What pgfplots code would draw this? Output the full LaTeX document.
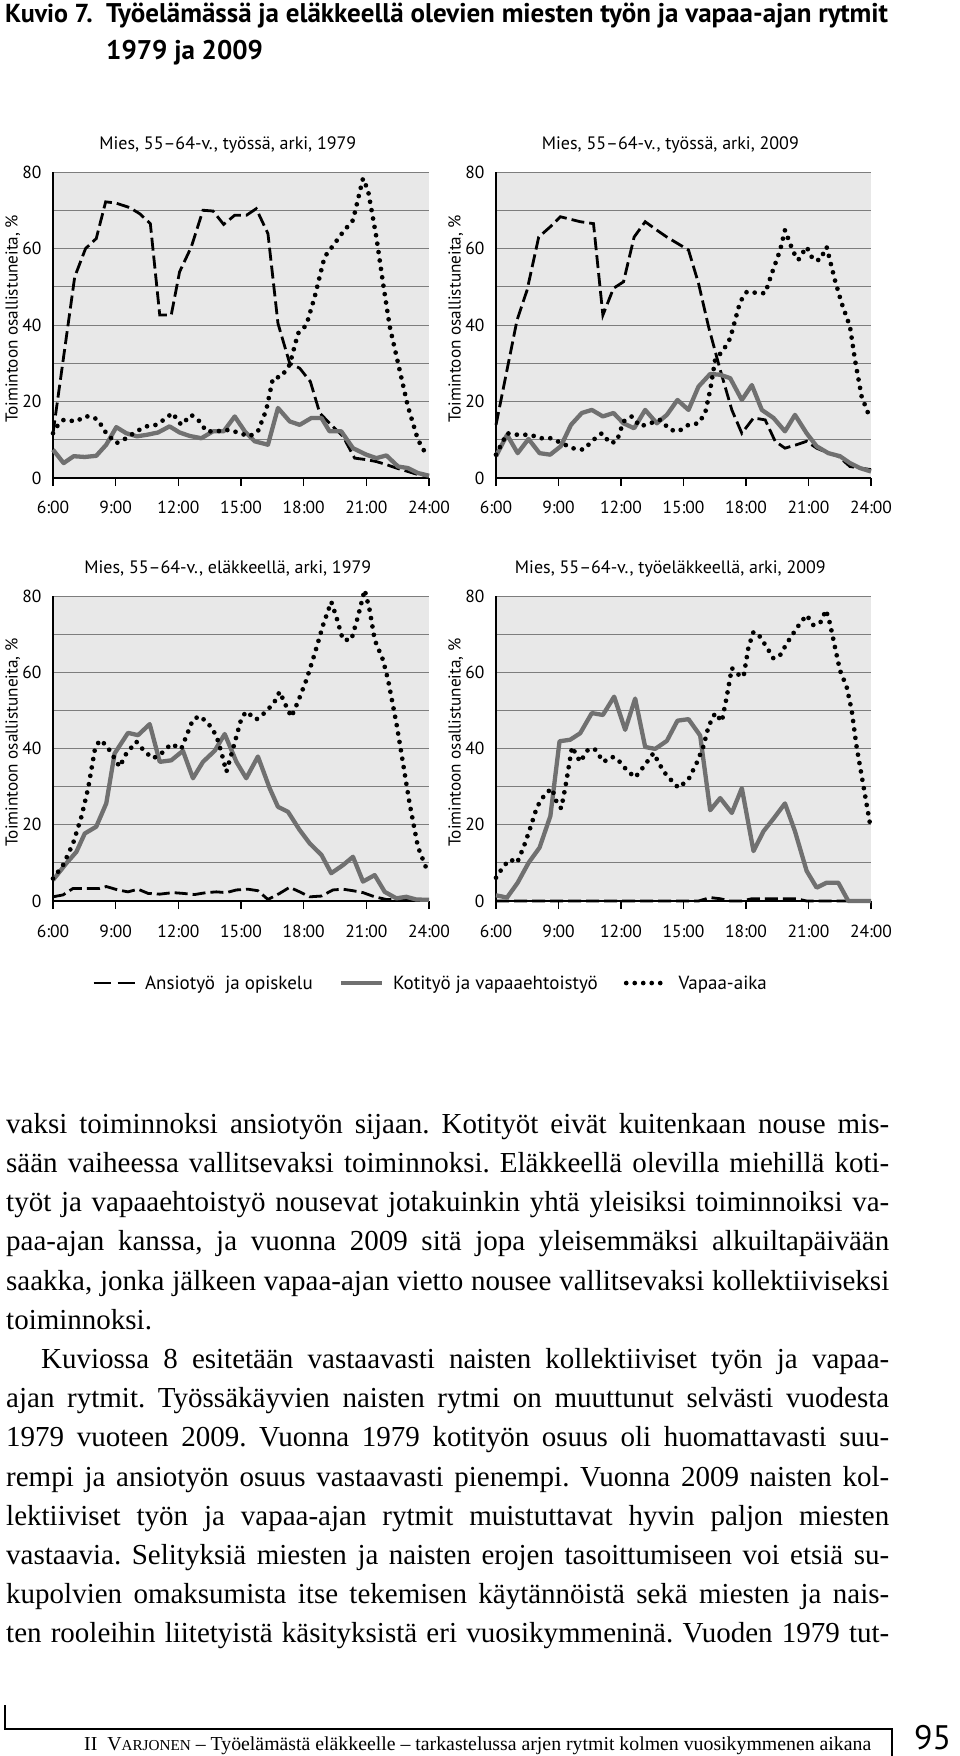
\documentclass[border=0pt]{standalone}
\usepackage{fontspec}
\setmainfont{PT Sans}
\newfontfamily\bodyfont{Liberation Serif}
\usepackage{pgfplots}
\pgfplotsset{compat=1.18}
\definecolor{bg}{RGB}{232,232,232}
\definecolor{gridc}{RGB}{125,125,125}
\definecolor{homec}{RGB}{112,112,112}
\pgfplotsset{
  panel/.style={
    scale only axis, width=376pt, height=306pt,
    xmin=6, xmax=24, ymin=0, ymax=80,
    axis x line*=bottom, axis y line*=left,
    axis line style={black, line width=1.1pt},
    axis background/.style={fill=bg},
    xtick={6,9,12,15,18,21,24},
    xticklabels={6:00,9:00,12:00,15:00,18:00,21:00,24:00},
    ytick={0,20,40,60,80},
    minor y tick num=1,
    ymajorgrids, yminorgrids,
    major grid style={gridc, line width=0.9pt},
    minor grid style={gridc, line width=0.9pt},
    ytick style={draw=none},
    minor tick length=0pt,
    xtick style={black, line width=1.1pt},
    tick align=outside,
    major tick length=8pt,
    tick label style={font=\fontsize{17.5}{20}\selectfont},
    /pgf/number format/assume math mode=true,
    xticklabel style={yshift=-12pt},
    ylabel={Toimintoon osallistuneita, \%},
    every axis y label/.style={at={(axis description cs:-0.107,0.52)}, rotate=90, anchor=center, font=\fontsize{17.2}{19}\selectfont},
    every axis title/.style={at={(axis description cs:0.465,1.09)}, anchor=center, font=\fontsize{18}{20}\selectfont},
    clip=false,
  },
  work/.style={black, line width=2.8pt, dash pattern=on 13pt off 5pt},
  home/.style={homec, line width=4.3pt, line join=round},
  leisure/.style={black, line width=4.7pt, line cap=round, dash pattern=on 0pt off 8.5pt},
}
\begin{document}
\begin{tikzpicture}
\useasboundingbox (0,0) rectangle (960pt,-1756pt);
% title
\node[anchor=base west, inner sep=0pt, font=\bfseries\fontsize{26}{30}\selectfont] at (5pt,-23pt) {Kuvio 7.};
\node[anchor=base west, inner sep=0pt, font=\bfseries\fontsize{27}{30}\selectfont] at (106pt,-23pt) {Työelämässä ja eläkkeellä olevien miesten työn ja vapaa-ajan rytmit};
\node[anchor=base west, inner sep=0pt, font=\bfseries\fontsize{27}{30}\selectfont] at (106pt,-59pt) {1979 ja 2009};

% Panel 1
\begin{axis}[panel, at={(53pt,-478pt)}, anchor=south west, title={Mies, 55–64-v., työssä, arki, 1979}]
\addplot[work] coordinates {(6.00,11.7)(7.04,52.6)(7.56,60.0)(8.07,62.6)(8.52,72.2)(9.00,71.9)(9.67,70.7)(10.15,69.1)(10.66,66.5)(11.11,42.6)(11.66,42.6)(12.06,53.9)(12.62,60.4)(13.18,70.0)(13.66,69.8)(14.17,66.3)(14.70,68.7)(15.26,68.7)(15.73,70.4)(16.29,63.9)(16.77,40.4)(17.33,30.0)(17.81,28.7)(18.32,25.2)(18.77,17.0)(19.24,14.3)(19.88,10.9)(20.44,5.2)(21.00,4.8)(21.48,4.3)(21.96,3.5)(22.44,2.6)(22.99,1.7)(23.47,0.9)(24.00,0.6)};
\addplot[home] coordinates {(6.00,7.4)(6.51,3.9)(6.99,5.7)(7.52,5.5)(8.07,5.8)(8.55,8.7)(9.03,13.3)(9.51,11.7)(10.02,10.9)(10.50,11.3)(11.03,11.9)(11.58,13.5)(12.06,11.9)(12.54,11.0)(13.10,10.4)(13.66,12.2)(14.17,12.2)(14.70,16.1)(15.18,12.2)(15.65,9.6)(16.29,8.7)(16.77,18.3)(17.33,14.8)(17.81,13.9)(18.37,15.7)(18.85,15.7)(19.24,12.2)(19.80,12.2)(20.36,7.8)(21.00,6.1)(21.48,5.2)(21.96,5.9)(22.52,3.0)(22.99,2.6)(23.47,1.3)(24.00,0.6)};
\addplot[leisure] coordinates {(6.00,11.7)(6.24,13.9)(6.51,15.2)(7.12,14.8)(7.52,16.1)(7.84,16.1)(8.15,15.2)(8.55,11.7)(9.03,9.1)(9.51,10.4)(9.99,12.2)(10.47,13.5)(10.95,13.9)(11.43,15.7)(11.71,17.0)(12.14,13.9)(12.62,16.5)(13.02,14.8)(13.34,12.2)(13.82,12.2)(14.46,12.6)(14.94,11.7)(15.41,10.9)(15.81,12.2)(16.21,17.8)(16.53,26.1)(16.93,26.5)(17.33,29.6)(17.73,37.8)(18.13,40.0)(18.53,47.4)(19.00,57.8)(19.48,61.3)(19.88,64.3)(20.36,67.4)(20.84,78.3)(21.08,75.2)(21.48,63.0)(21.80,50.9)(22.12,39.6)(22.52,30.0)(22.99,18.7)(23.47,10.0)(23.87,6.1)};
\end{axis}

% Panel 2
\begin{axis}[panel, width=375pt, at={(496pt,-478pt)}, anchor=south west, title={Mies, 55–64-v., työssä, arki, 2009}]
\addplot[work] coordinates {(6.00,13.9)(7.01,41.3)(7.49,49.1)(8.05,63.0)(8.61,65.7)(9.09,68.3)(10.05,67.0)(10.68,66.5)(11.13,42.6)(11.64,49.6)(12.12,51.3)(12.63,63.0)(13.16,67.0)(13.72,64.8)(14.20,63.0)(15.24,59.6)(15.72,50.9)(16.20,39.6)(16.76,28.3)(17.32,17.8)(17.80,11.7)(18.36,15.7)(18.92,15.2)(19.40,9.6)(19.87,7.8)(20.43,8.7)(20.91,9.6)(21.39,7.8)(21.95,6.5)(22.43,5.7)(22.99,3.0)(23.47,2.6)(24.00,2.2)};
\addplot[home] coordinates {(6.00,5.7)(6.53,11.3)(7.04,6.5)(7.56,10.2)(8.09,6.5)(8.60,6.1)(9.11,8.3)(9.60,13.9)(10.12,17.0)(10.60,17.8)(11.13,16.1)(11.64,17.0)(12.12,14.3)(12.63,13.0)(13.16,17.8)(13.72,14.3)(14.20,16.5)(14.71,20.4)(15.24,17.8)(15.72,23.9)(16.28,27.2)(16.76,27.0)(17.24,26.1)(17.80,20.4)(18.28,24.3)(18.76,17.8)(19.32,15.7)(19.87,12.2)(20.35,16.5)(20.91,11.7)(21.39,8.3)(21.95,6.5)(22.51,5.7)(22.99,3.9)(23.47,2.6)(24.00,1.7)};
\addplot[leisure] coordinates {(6.00,6.1)(6.53,11.7)(7.04,11.3)(7.65,11.3)(8.13,10.4)(8.61,10.4)(9.17,9.1)(9.65,7.8)(10.20,7.4)(10.68,10.0)(11.08,11.7)(11.48,9.1)(11.80,9.6)(12.12,14.8)(12.52,16.1)(12.92,13.5)(13.40,14.3)(13.88,15.2)(14.36,12.6)(14.76,12.2)(15.24,13.9)(15.72,14.3)(16.04,17.0)(16.28,23.0)(16.52,30.9)(16.92,33.5)(17.24,36.5)(17.48,41.3)(17.72,46.1)(18.04,48.7)(18.52,48.4)(18.92,48.3)(19.24,53.5)(19.64,59.6)(19.87,64.8)(20.27,59.1)(20.51,57.0)(20.75,59.1)(20.91,60.4)(21.23,57.0)(21.55,57.0)(21.87,60.4)(22.27,51.7)(22.59,45.7)(22.99,39.6)(23.23,30.9)(23.55,21.3)(23.95,15.7)};
\end{axis}

% Panel 3
\begin{axis}[panel, height=305pt, at={(53pt,-901pt)}, anchor=south west, title={Mies, 55–64-v., eläkkeellä, arki, 1979},
  legend style={at={(axis description cs:0.104,-0.269)}, anchor=west, draw=none, fill=none, inner sep=0pt,
    font=\fontsize{19}{22}\selectfont,
    /tikz/every odd column/.append style={column sep=7pt},
    /tikz/every even column/.append style={column sep=24pt}},
  legend columns=3, legend cell align=left,
  legend image code/.code={\draw[#1] (0pt,0pt) -- (41pt,0pt);}]
\addplot[work, legend image post style={dash pattern=on 17pt off 7pt}] coordinates {(6.00,1.1)(6.48,1.6)(6.96,3.3)(7.60,3.3)(8.23,3.3)(8.55,3.8)(9.11,2.9)(9.59,2.4)(10.07,3.1)(10.55,2.0)(11.11,1.8)(11.74,2.2)(12.22,2.0)(12.78,1.7)(13.34,2.2)(13.82,2.4)(14.30,2.2)(14.78,2.9)(15.33,3.1)(15.81,2.7)(16.29,0.4)(16.85,2.0)(17.33,3.6)(17.81,2.4)(18.29,1.1)(18.85,1.3)(19.40,2.9)(19.88,3.1)(20.36,2.7)(20.84,2.2)(21.40,1.1)(21.96,0.4)(22.60,0.3)(24.00,0.3)};
\addlegendentry{Ansiotyö\ \ ja opiskelu}
\addplot[home] coordinates {(6.00,5.5)(6.64,9.9)(7.12,12.9)(7.52,17.7)(8.07,19.5)(8.55,25.6)(8.95,38.7)(9.59,44.1)(10.07,43.5)(10.63,46.4)(11.11,36.5)(11.66,36.9)(12.22,39.4)(12.70,32.2)(13.18,36.5)(13.74,39.4)(14.22,43.8)(14.78,36.5)(15.25,32.2)(15.81,37.9)(16.37,29.6)(16.77,24.7)(17.25,23.4)(17.81,18.6)(18.29,15.1)(18.85,12.1)(19.32,7.3)(19.88,9.4)(20.36,11.6)(20.84,5.1)(21.40,6.8)(21.88,2.4)(22.44,0.7)(22.91,1.1)(23.39,0.4)(24.00,0.3)};
\addlegendentry{Kotityö ja vapaaehtoistyö}
\addplot[leisure] coordinates {(6.00,5.9)(6.48,9.4)(6.96,15.1)(7.36,22.1)(7.68,29.5)(8.00,39.6)(8.23,42.2)(8.55,40.9)(8.95,37.4)(9.19,35.2)(9.51,38.7)(9.99,41.8)(10.39,39.2)(10.79,37.4)(11.19,38.7)(11.66,41.2)(12.14,39.9)(12.70,47.6)(13.02,48.5)(13.42,46.7)(13.82,43.4)(14.06,39.0)(14.30,33.9)(14.62,40.0)(15.02,47.9)(15.25,49.7)(15.73,47.6)(16.21,49.7)(16.61,52.3)(16.85,54.9)(17.17,51.0)(17.41,48.3)(17.73,52.3)(18.13,58.0)(18.53,64.9)(18.93,72.4)(19.32,78.5)(19.56,74.6)(19.88,68.5)(20.28,68.5)(20.60,74.6)(20.92,81.6)(21.16,76.3)(21.40,68.5)(21.80,63.2)(22.04,58.0)(22.44,46.6)(22.68,38.7)(23.07,25.6)(23.47,14.2)(23.87,8.6)};
\addlegendentry{Vapaa-aika}
\end{axis}

% Panel 4
\begin{axis}[panel, width=375pt, height=305pt, at={(496pt,-901pt)}, anchor=south west, title={Mies, 55–64-v., työeläkkeellä, arki, 2009}]
\addplot[work] coordinates {(6.00,0)(15.72,0)(16.28,0.9)(16.76,0.6)(17.24,0)(17.80,0)(18.28,0.6)(20.43,0.6)(20.91,0)(24.00,0)};
\addplot[home] coordinates {(6.00,1.5)(6.53,0.9)(7.04,4.8)(7.56,10.0)(8.09,14.0)(8.61,22.3)(9.05,41.9)(9.56,42.3)(10.04,44.0)(10.60,49.3)(11.13,48.8)(11.67,53.6)(12.20,44.9)(12.68,53.1)(13.16,40.4)(13.64,39.9)(14.20,42.0)(14.71,47.3)(15.24,47.7)(15.80,43.4)(16.28,23.8)(16.76,27.0)(17.32,23.1)(17.80,29.6)(18.36,13.1)(18.84,18.3)(19.32,21.6)(19.87,25.6)(20.35,18.3)(20.91,7.9)(21.39,3.5)(21.87,4.8)(22.43,4.8)(22.91,0)(24.00,0)};
\addplot[leisure] coordinates {(6.00,6.1)(6.37,9.2)(6.69,10.9)(7.01,10.0)(7.33,14.2)(7.61,18.6)(7.97,24.7)(8.37,28.2)(8.69,29.5)(8.93,25.6)(9.13,24.3)(9.33,29.9)(9.65,40.4)(10.04,36.5)(10.44,39.9)(10.76,39.7)(11.16,36.5)(11.56,37.8)(11.80,37.4)(12.28,34.3)(12.68,32.4)(13.08,35.2)(13.56,38.8)(14.04,34.0)(14.52,31.0)(14.76,29.7)(15.24,31.9)(15.64,36.3)(15.96,40.6)(16.20,45.8)(16.52,49.3)(16.84,47.1)(17.08,53.7)(17.32,61.1)(17.64,59.4)(17.88,58.8)(18.12,66.6)(18.36,70.6)(18.68,69.3)(19.08,65.8)(19.32,63.6)(19.64,64.5)(19.95,67.5)(20.27,70.2)(20.59,72.8)(20.91,75.0)(21.23,72.4)(21.55,72.8)(21.84,76.3)(22.03,72.8)(22.27,66.6)(22.51,60.5)(22.83,56.2)(23.07,50.1)(23.31,40.4)(23.63,30.4)(23.95,20.3)};
\end{axis}

% body text
\begin{scope}[every node/.style={anchor=base west, inner sep=0pt, font=\bodyfont\fontsize{29}{39}\selectfont\frenchspacing}]
\node at (6pt,-1133pt) {\makebox[883pt][s]{vaksi toiminnoksi ansiotyön sijaan. Kotityöt eivät kuitenkaan nouse mis-}};
\node at (6pt,-1172pt) {\makebox[883pt][s]{sään vaiheessa vallitsevaksi toiminnoksi. Eläkkeellä olevilla miehillä koti-}};
\node at (6pt,-1211pt) {\makebox[883pt][s]{työt ja vapaaehtoistyö nousevat jotakuinkin yhtä yleisiksi toiminnoiksi va-}};
\node at (6pt,-1250pt) {\makebox[883pt][s]{paa-ajan kanssa, ja vuonna 2009 sitä jopa yleisemmäksi alkuiltapäivään}};
\node at (6pt,-1290pt) {\makebox[883pt][s]{saakka, jonka jälkeen vapaa-ajan vietto nousee vallitsevaksi kollektiiviseksi}};
\node at (6pt,-1329pt) {toiminnoksi.};
\node at (41pt,-1368pt) {\makebox[848pt][s]{Kuviossa 8 esitetään vastaavasti naisten kollektiiviset työn ja vapaa-}};
\node at (6pt,-1407pt) {\makebox[883pt][s]{ajan rytmit. Työssäkäyvien naisten rytmi on muuttunut selvästi vuodesta}};
\node at (6pt,-1446pt) {\makebox[883pt][s]{1979 vuoteen 2009. Vuonna 1979 kotityön osuus oli huomattavasti suu-}};
\node at (6pt,-1486pt) {\makebox[883pt][s]{rempi ja ansiotyön osuus vastaavasti pienempi. Vuonna 2009 naisten kol-}};
\node at (6pt,-1525pt) {\makebox[883pt][s]{lektiiviset työn ja vapaa-ajan rytmit muistuttavat hyvin paljon miesten}};
\node at (6pt,-1564pt) {\makebox[883pt][s]{vastaavia. Selityksiä miesten ja naisten erojen tasoittumiseen voi etsiä su-}};
\node at (6pt,-1603pt) {\makebox[883pt][s]{kupolvien omaksumista itse tekemisen käytännöistä sekä miesten ja nais-}};
\node at (6pt,-1642pt) {\makebox[883pt][s]{ten rooleihin liitetyistä käsityksistä eri vuosikymmeninä. Vuoden 1979 tut-}};
\end{scope}

% footer
\draw[line width=1.2pt] (5pt,-1705pt) -- (5pt,-1729pt) -- (892pt,-1729pt) -- (892pt,-1756pt);
\node[anchor=base west, inner sep=0pt, font=\bodyfont\fontsize{19.8}{23}\selectfont] at (84pt,-1750pt) {II\ \ V{\fontsize{15.2}{18}\selectfont ARJONEN} – Työelämästä eläkkeelle – tarkastelussa arjen rytmit kolmen vuosikymmenen aikana};
\node[anchor=base west, inner sep=0pt, font=\fontsize{34}{38}\selectfont] at (914pt,-1749pt) {95};
\end{tikzpicture}
\end{document}
